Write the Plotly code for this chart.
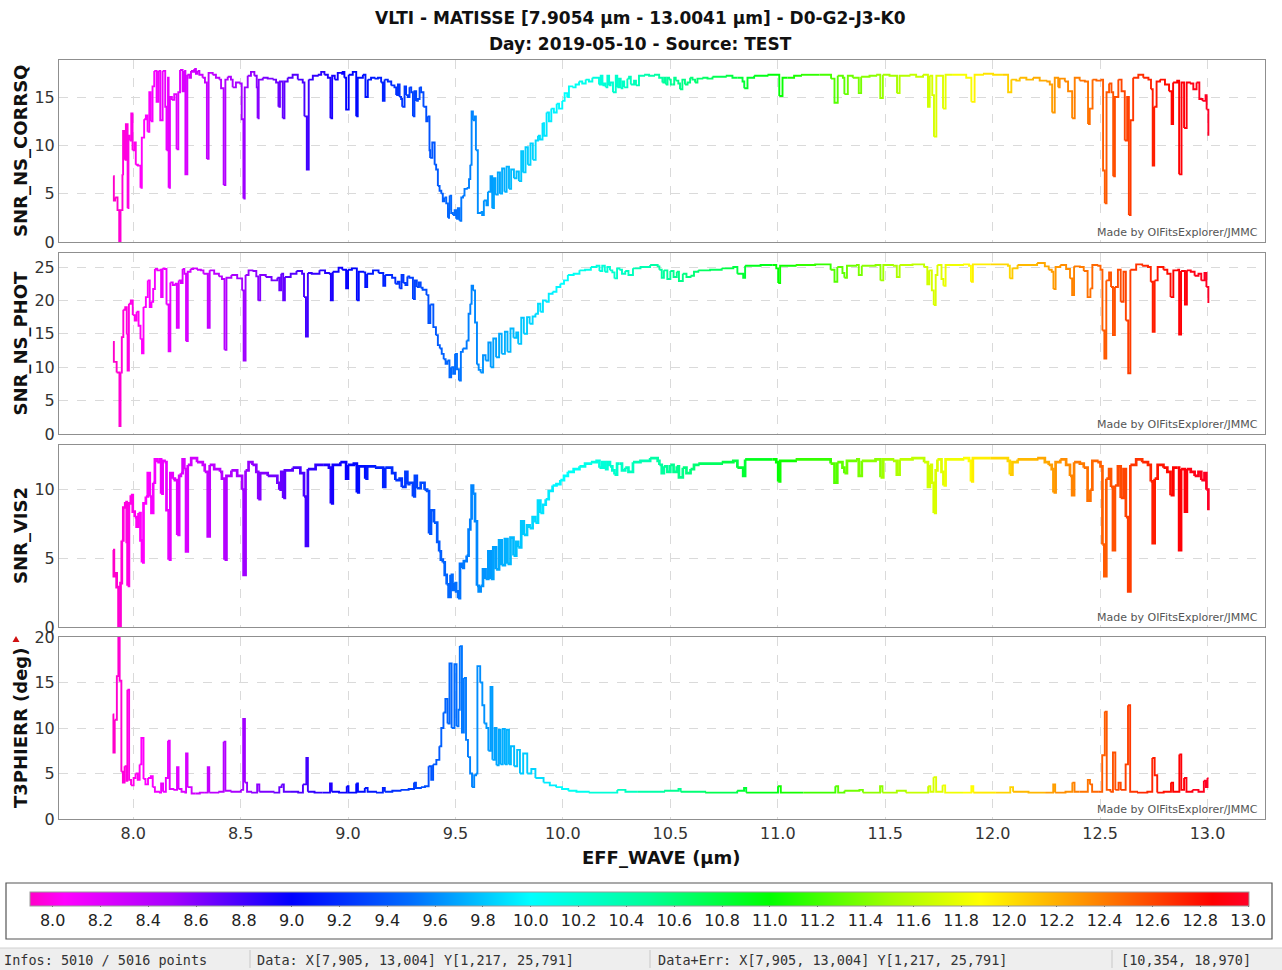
import numpy as np
import plotly.graph_objects as go

W, H = 1282, 970
WL_MIN, WL_MAX = 7.9054, 13.0041
FONT = "DejaVu Sans"

# ---------------------------------------------------------------- data
# SNR_NS_CORRSQ versus effective wavelength (µm)
corrsq_wl = [
    7.907, 7.910, 7.916, 7.927, 7.935, 7.941, 7.950, 7.953, 7.960, 7.966, 7.974, 7.978,
    7.984, 7.991, 7.997, 8.005, 8.012, 8.022, 8.034, 8.040, 8.051, 8.059, 8.067, 8.075,
    8.082, 8.090, 8.098, 8.109, 8.118, 8.126, 8.137, 8.149, 8.155, 8.162, 8.165, 8.171,
    8.180, 8.191, 8.202, 8.210, 8.218, 8.230, 8.237, 8.243, 8.252, 8.261, 8.269, 8.277,
    8.284, 8.292, 8.300, 8.308, 8.323, 8.334, 8.343, 8.351, 8.370, 8.385, 8.401, 8.409,
    8.421, 8.429, 8.440, 8.455, 8.463, 8.478, 8.494, 8.505, 8.513, 8.519, 8.533, 8.548,
    8.564, 8.575, 8.579, 8.584, 8.603, 8.626, 8.649, 8.665, 8.676, 8.683, 8.696, 8.704,
    8.719, 8.742, 8.766, 8.789, 8.797, 8.808, 8.817, 8.836, 8.859, 8.875, 8.890, 8.906,
    8.918, 8.926, 8.938, 8.952, 8.968, 8.975, 8.983, 8.991, 9.003, 9.022, 9.038, 9.045,
    9.069, 9.081, 9.092, 9.107, 9.123, 9.139, 9.154, 9.162, 9.170, 9.185, 9.201, 9.216,
    9.224, 9.232, 9.240, 9.247, 9.252, 9.263, 9.270, 9.278, 9.286, 9.294, 9.302, 9.309,
    9.317, 9.325, 9.333, 9.340, 9.351, 9.364, 9.371, 9.379, 9.382, 9.392, 9.403, 9.410,
    9.418, 9.426, 9.434, 9.441, 9.449, 9.457, 9.465, 9.470, 9.473, 9.480, 9.488, 9.496,
    9.503, 9.511, 9.519, 9.527, 9.535, 9.542, 9.553, 9.563, 9.569, 9.575, 9.581, 9.589,
    9.595, 9.604, 9.617, 9.624, 9.632, 9.644, 9.651, 9.663, 9.671, 9.679, 9.686, 9.697,
    9.707, 9.717, 9.728, 9.738, 9.749, 9.759, 9.772, 9.784, 9.795, 9.806, 9.815, 9.826,
    9.837, 9.849, 9.860, 9.873, 9.884, 9.893, 9.905, 9.912, 9.924, 9.935, 9.946, 9.958,
    9.971, 9.982, 9.997, 10.008, 10.020, 10.028, 10.044, 10.059, 10.075, 10.090, 10.106, 10.121,
    10.137, 10.160, 10.168, 10.176, 10.184, 10.191, 10.199, 10.207, 10.215, 10.222, 10.233, 10.246,
    10.253, 10.261, 10.269, 10.277, 10.285, 10.292, 10.300, 10.308, 10.316, 10.331, 10.340, 10.354,
    10.378, 10.401, 10.424, 10.448, 10.463, 10.471, 10.479, 10.487, 10.494, 10.502, 10.510, 10.518,
    10.525, 10.537, 10.545, 10.556, 10.568, 10.580, 10.592, 10.603, 10.615, 10.626, 10.649, 10.673,
    10.696, 10.727, 10.758, 10.789, 10.812, 10.836, 10.844, 10.859, 10.890, 10.921, 10.952, 10.983,
    11.007, 11.022, 11.045, 11.076, 11.108, 11.154, 11.194, 11.225, 11.248, 11.264, 11.279, 11.303,
    11.310, 11.326, 11.349, 11.377, 11.388, 11.427, 11.458, 11.477, 11.489, 11.520, 11.555, 11.567,
    11.613, 11.644, 11.676, 11.699, 11.707, 11.719, 11.727, 11.738, 11.769, 11.781, 11.815, 11.877,
    11.901, 11.916, 11.955, 12.002, 12.048, 12.072, 12.087, 12.110, 12.126, 12.157, 12.188, 12.219,
    12.250, 12.266, 12.277, 12.289, 12.305, 12.312, 12.336, 12.351, 12.370, 12.382, 12.405, 12.429,
    12.444, 12.452, 12.465, 12.483, 12.503, 12.514, 12.522, 12.530, 12.542, 12.553, 12.561, 12.569,
    12.585, 12.600, 12.615, 12.626, 12.634, 12.642, 12.654, 12.678, 12.701, 12.725, 12.737, 12.745,
    12.752, 12.763, 12.779, 12.802, 12.821, 12.833, 12.840, 12.859, 12.868, 12.879, 12.891, 12.903,
    12.918, 12.934, 12.949, 12.962, 12.977, 12.991, 12.996, 13.004,
]
corrsq_snr = [
    6.8, 4.3, 4.6, 3.3, 0.0, 3.3, 7.0, 11.5, 8.5, 12.2, 3.5, 11.0,
    10.5, 13.3, 9.5, 10.3, 8.0, 7.9, 5.6, 10.8, 12.7, 13.1, 11.4, 15.5,
    12.5, 16.1, 17.7, 14.5, 17.7, 12.6, 17.7, 14.0, 9.5, 17.0, 5.6, 15.0,
    14.7, 15.3, 9.6, 15.5, 17.8, 15.6, 17.7, 7.0, 17.3, 17.0, 17.7, 17.6,
    17.9, 17.4, 17.7, 17.3, 17.0, 16.5, 8.6, 17.5, 17.3, 17.0, 16.8, 15.9,
    5.9, 16.8, 17.1, 16.8, 16.0, 16.5, 16.4, 12.7, 4.5, 16.0, 17.2, 17.6,
    17.2, 16.0, 12.8, 16.8, 17.0, 16.9, 16.8, 16.5, 14.0, 16.6, 12.8, 16.6,
    17.0, 17.3, 16.8, 16.5, 13.0, 7.5, 16.8, 17.2, 17.3, 17.6, 17.3, 17.0,
    12.8, 17.2, 16.8, 17.5, 17.4, 17.6, 17.0, 13.7, 17.3, 17.6, 13.0, 17.0,
    17.3, 15.0, 16.8, 17.0, 16.9, 17.0, 16.5, 14.6, 16.8, 16.6, 16.2, 16.0,
    15.2, 16.3, 15.0, 14.8, 14.0, 16.1, 15.2, 15.0, 16.0, 15.5, 13.0, 15.6,
    14.6, 14.8, 16.0, 15.5, 14.0, 12.5, 13.0, 9.5, 8.7, 10.3, 8.0, 7.5,
    5.8, 5.3, 5.0, 4.2, 4.6, 4.0, 2.5, 3.4, 4.8, 3.0, 2.8, 3.3,
    2.4, 3.5, 2.2, 4.6, 4.8, 5.5, 5.6, 6.5, 8.0, 13.5, 12.6, 13.0,
    9.5, 3.0, 3.1, 2.8, 4.3, 3.8, 5.2, 6.8, 3.5, 6.6, 4.9, 7.2,
    5.0, 7.6, 5.2, 7.8, 5.5, 7.5, 6.6, 7.3, 6.3, 9.4, 7.2, 9.8,
    8.0, 10.2, 8.5, 10.5, 11.0, 10.6, 12.3, 11.0, 13.4, 12.5, 13.8, 13.4,
    14.3, 13.8, 14.6, 15.4, 15.0, 16.1, 16.0, 16.3, 16.6, 16.4, 16.8, 16.6,
    17.0, 17.0, 16.3, 17.2, 16.2, 16.4, 16.0, 17.2, 16.2, 16.5, 15.5, 17.2,
    16.0, 16.9, 15.9, 16.6, 16.0, 16.0, 16.9, 17.1, 16.3, 16.7, 16.2, 17.2,
    17.3, 17.2, 17.3, 17.0, 16.5, 17.0, 16.3, 17.0, 16.8, 16.3, 16.3, 17.0,
    16.7, 16.4, 15.8, 16.8, 16.3, 16.5, 17.0, 16.8, 16.5, 16.9, 17.0, 16.9,
    17.1, 17.1, 17.2, 17.0, 17.0, 16.6, 15.9, 17.0, 17.2, 17.2, 17.3, 17.3,
    15.1, 17.0, 17.0, 17.2, 17.3, 17.3, 17.3, 17.3, 16.9, 14.4, 17.2, 17.0,
    15.3, 17.2, 17.0, 15.4, 17.1, 17.2, 17.3, 14.9, 17.3, 17.2, 15.4, 17.2,
    17.3, 17.1, 17.3, 14.0, 17.2, 15.2, 10.9, 17.2, 13.8, 17.3, 17.3, 17.0,
    14.5, 17.3, 17.4, 17.3, 17.3, 15.5, 16.8, 16.7, 17.0, 16.8, 17.0, 16.7,
    16.6, 16.3, 13.4, 17.0, 16.0, 16.9, 16.6, 15.6, 12.8, 17.0, 16.7, 16.6,
    12.2, 13.8, 16.8, 16.7, 16.8, 7.4, 4.0, 15.5, 16.4, 15.5, 6.8, 15.0,
    16.8, 15.6, 10.5, 15.0, 2.8, 12.6, 17.0, 17.3, 17.0, 16.8, 15.8, 7.9,
    14.0, 16.6, 16.8, 16.3, 15.6, 12.2, 16.5, 16.7, 7.0, 16.5, 11.8, 16.5,
    16.4, 15.8, 16.5, 14.8, 14.6, 15.2, 13.7, 11.0,
]

# SNR_NS_PHOT versus effective wavelength (µm)
phot_wl = [
    7.906, 7.910, 7.923, 7.936, 7.941, 7.947, 7.954, 7.963, 7.970, 7.974, 7.980, 7.989,
    7.998, 8.007, 8.016, 8.025, 8.034, 8.041, 8.048, 8.059, 8.068, 8.077, 8.085, 8.093,
    8.101, 8.112, 8.123, 8.130, 8.137, 8.146, 8.155, 8.165, 8.173, 8.184, 8.194, 8.203,
    8.212, 8.222, 8.230, 8.238, 8.246, 8.254, 8.267, 8.279, 8.297, 8.315, 8.327, 8.347,
    8.356, 8.377, 8.399, 8.413, 8.425, 8.434, 8.457, 8.484, 8.507, 8.514, 8.523, 8.537,
    8.555, 8.573, 8.582, 8.591, 8.617, 8.644, 8.671, 8.680, 8.689, 8.698, 8.706, 8.733,
    8.760, 8.786, 8.795, 8.804, 8.813, 8.831, 8.867, 8.893, 8.911, 8.920, 8.929, 8.956,
    8.973, 8.991, 9.000, 9.018, 9.041, 9.050, 9.071, 9.080, 9.089, 9.116, 9.142, 9.164,
    9.173, 9.205, 9.220, 9.231, 9.240, 9.249, 9.258, 9.267, 9.276, 9.285, 9.302, 9.311,
    9.320, 9.329, 9.338, 9.347, 9.365, 9.374, 9.383, 9.397, 9.409, 9.418, 9.427, 9.436,
    9.445, 9.454, 9.463, 9.472, 9.480, 9.489, 9.498, 9.507, 9.516, 9.525, 9.534, 9.543,
    9.552, 9.561, 9.569, 9.575, 9.582, 9.591, 9.600, 9.608, 9.617, 9.628, 9.640, 9.653,
    9.664, 9.676, 9.689, 9.703, 9.715, 9.730, 9.742, 9.756, 9.770, 9.783, 9.792, 9.806,
    9.818, 9.833, 9.845, 9.859, 9.872, 9.884, 9.895, 9.907, 9.920, 9.934, 9.952, 9.970,
    9.988, 10.005, 10.023, 10.050, 10.077, 10.103, 10.130, 10.157, 10.170, 10.183, 10.195, 10.207,
    10.219, 10.230, 10.240, 10.252, 10.263, 10.275, 10.290, 10.305, 10.326, 10.361, 10.406, 10.441,
    10.449, 10.460, 10.470, 10.486, 10.500, 10.515, 10.530, 10.540, 10.558, 10.575, 10.594, 10.610,
    10.630, 10.685, 10.739, 10.793, 10.812, 10.839, 10.848, 10.920, 10.975, 10.993, 11.002, 11.011,
    11.083, 11.174, 11.246, 11.264, 11.277, 11.301, 11.310, 11.322, 11.364, 11.377, 11.391, 11.455,
    11.478, 11.491, 11.536, 11.554, 11.567, 11.627, 11.681, 11.696, 11.705, 11.717, 11.726, 11.735,
    11.743, 11.762, 11.771, 11.781, 11.862, 11.890, 11.899, 11.908, 11.989, 12.071, 12.080, 12.092,
    12.116, 12.170, 12.207, 12.243, 12.261, 12.275, 12.283, 12.293, 12.315, 12.342, 12.360, 12.370,
    12.379, 12.406, 12.424, 12.442, 12.455, 12.464, 12.487, 12.502, 12.511, 12.520, 12.529, 12.542,
    12.551, 12.560, 12.569, 12.583, 12.596, 12.609, 12.620, 12.631, 12.641, 12.668, 12.696, 12.723,
    12.736, 12.745, 12.754, 12.768, 12.795, 12.813, 12.828, 12.841, 12.859, 12.868, 12.877, 12.895,
    12.904, 12.922, 12.940, 12.958, 12.971, 12.986, 12.995, 13.004,
]
phot_snr = [
    13.8, 10.8, 9.2, 1.2, 9.2, 14.5, 18.6, 19.0, 14.9, 9.5, 19.5, 20.0,
    17.8, 17.0, 18.3, 16.2, 14.2, 12.1, 19.0, 20.5, 23.0, 19.0, 19.8, 21.7,
    24.7, 24.5, 24.6, 20.5, 24.8, 24.7, 19.4, 12.4, 22.7, 22.3, 22.5, 15.9,
    23.0, 22.6, 24.7, 24.0, 13.9, 24.3, 24.7, 24.8, 24.6, 24.5, 24.0, 15.9,
    24.5, 24.0, 23.6, 23.2, 12.6, 23.4, 23.8, 23.3, 21.5, 11.0, 23.8, 24.5,
    24.4, 23.6, 20.0, 23.8, 23.5, 23.0, 23.4, 21.5, 24.0, 20.0, 23.5, 24.0,
    24.4, 24.0, 20.5, 14.6, 24.1, 24.0, 24.5, 24.1, 24.0, 20.0, 24.3, 24.9,
    24.6, 21.8, 24.6, 24.8, 20.0, 24.3, 24.2, 22.0, 24.0, 24.5, 24.1, 22.2,
    23.8, 23.4, 22.5, 22.8, 21.8, 23.8, 22.6, 22.3, 23.6, 23.4, 20.2, 23.0,
    22.0, 22.7, 21.9, 21.6, 20.8, 16.6, 19.4, 16.0, 14.8, 13.3, 12.8, 12.0,
    11.2, 10.5, 11.0, 8.5, 10.0, 9.0, 12.0, 9.7, 8.0, 12.3, 12.8, 12.8,
    14.0, 18.0, 19.5, 22.2, 21.5, 16.7, 10.4, 9.6, 9.2, 11.8, 11.0, 13.7,
    10.0, 14.3, 11.5, 15.0, 12.0, 15.3, 12.3, 15.8, 14.4, 15.2, 13.5, 17.4,
    15.0, 17.5, 16.5, 17.6, 18.0, 19.5, 18.3, 20.0, 19.8, 21.0, 21.3, 22.0,
    22.5, 23.0, 23.8, 24.0, 24.5, 24.6, 25.0, 25.2, 24.4, 25.2, 24.3, 25.0,
    24.5, 24.2, 23.3, 24.8, 24.6, 24.0, 24.4, 23.8, 24.8, 25.0, 25.3, 25.1,
    24.6, 23.4, 24.5, 23.2, 24.4, 23.5, 24.3, 22.9, 24.0, 23.5, 23.7, 24.3,
    24.5, 24.6, 24.8, 25.0, 24.0, 23.4, 25.2, 25.3, 25.3, 24.8, 22.6, 25.2,
    25.3, 25.4, 24.6, 22.8, 25.0, 24.1, 23.4, 25.2, 25.3, 23.8, 25.2, 25.3,
    23.0, 25.3, 25.2, 23.5, 25.3, 25.4, 25.0, 22.4, 24.5, 21.5, 19.3, 23.8,
    25.3, 23.2, 22.2, 25.3, 25.4, 25.2, 22.8, 25.4, 25.4, 25.2, 23.3, 24.8,
    25.3, 25.3, 25.6, 25.1, 24.6, 24.3, 21.7, 25.0, 25.3, 24.7, 23.3, 20.8,
    25.1, 25.0, 24.4, 20.5, 21.8, 25.3, 25.2, 24.6, 15.5, 11.3, 23.0, 24.2,
    22.0, 14.8, 22.0, 24.6, 19.8, 24.3, 17.0, 9.1, 24.6, 25.4, 25.2, 25.0,
    22.8, 15.3, 23.0, 25.0, 24.6, 24.0, 20.5, 24.5, 24.6, 14.9, 24.4, 19.4,
    24.5, 24.3, 23.7, 24.0, 23.0, 24.1, 22.0, 19.6,
]

# SNR_VIS2 versus effective wavelength (µm)
vis2_wl = [
    7.906, 7.910, 7.915, 7.923, 7.932, 7.941, 7.947, 7.954, 7.963, 7.970, 7.974, 7.980,
    7.989, 7.998, 8.007, 8.016, 8.025, 8.034, 8.041, 8.048, 8.059, 8.068, 8.077, 8.085,
    8.093, 8.101, 8.112, 8.123, 8.130, 8.137, 8.146, 8.155, 8.165, 8.173, 8.184, 8.194,
    8.205, 8.214, 8.222, 8.230, 8.238, 8.246, 8.254, 8.270, 8.297, 8.324, 8.333, 8.347,
    8.356, 8.377, 8.404, 8.413, 8.425, 8.434, 8.457, 8.484, 8.507, 8.514, 8.523, 8.537,
    8.555, 8.573, 8.582, 8.591, 8.626, 8.671, 8.680, 8.689, 8.698, 8.706, 8.742, 8.778,
    8.795, 8.804, 8.813, 8.849, 8.884, 8.911, 8.920, 8.929, 8.964, 8.991, 9.000, 9.027,
    9.041, 9.050, 9.080, 9.089, 9.125, 9.164, 9.173, 9.205, 9.220, 9.240, 9.250, 9.267,
    9.276, 9.285, 9.302, 9.311, 9.320, 9.338, 9.356, 9.368, 9.377, 9.386, 9.400, 9.415,
    9.424, 9.432, 9.441, 9.450, 9.459, 9.468, 9.477, 9.486, 9.494, 9.503, 9.512, 9.521,
    9.530, 9.539, 9.552, 9.561, 9.569, 9.575, 9.582, 9.591, 9.600, 9.608, 9.617, 9.628,
    9.640, 9.653, 9.664, 9.676, 9.689, 9.703, 9.715, 9.730, 9.742, 9.756, 9.770, 9.783,
    9.792, 9.806, 9.818, 9.833, 9.845, 9.859, 9.872, 9.884, 9.895, 9.907, 9.920, 9.934,
    9.952, 9.970, 9.988, 10.005, 10.023, 10.050, 10.077, 10.103, 10.130, 10.157, 10.170, 10.183,
    10.195, 10.207, 10.219, 10.230, 10.240, 10.252, 10.263, 10.275, 10.290, 10.305, 10.326, 10.361,
    10.406, 10.441, 10.449, 10.460, 10.470, 10.486, 10.500, 10.515, 10.530, 10.540, 10.558, 10.575,
    10.594, 10.610, 10.630, 10.685, 10.739, 10.793, 10.812, 10.839, 10.848, 10.920, 10.975, 10.993,
    11.002, 11.011, 11.083, 11.174, 11.246, 11.264, 11.277, 11.301, 11.310, 11.322, 11.364, 11.377,
    11.391, 11.455, 11.478, 11.491, 11.536, 11.554, 11.567, 11.627, 11.681, 11.699, 11.708, 11.717,
    11.726, 11.735, 11.743, 11.762, 11.771, 11.781, 11.862, 11.890, 11.899, 11.908, 11.989, 12.071,
    12.080, 12.092, 12.116, 12.170, 12.207, 12.243, 12.261, 12.275, 12.283, 12.293, 12.315, 12.342,
    12.360, 12.370, 12.379, 12.406, 12.424, 12.442, 12.455, 12.464, 12.487, 12.502, 12.511, 12.520,
    12.529, 12.542, 12.551, 12.560, 12.569, 12.583, 12.596, 12.609, 12.620, 12.631, 12.641, 12.668,
    12.696, 12.723, 12.736, 12.745, 12.754, 12.768, 12.795, 12.813, 12.828, 12.841, 12.859, 12.868,
    12.877, 12.895, 12.904, 12.922, 12.940, 12.958, 12.971, 12.986, 12.995, 13.004,
]
vis2_snr = [
    5.6, 3.7, 3.9, 2.9, 0.0, 3.2, 6.3, 8.7, 9.1, 6.2, 3.0, 9.0,
    9.6, 8.4, 8.0, 7.3, 8.3, 6.3, 4.7, 9.0, 9.5, 11.2, 9.5, 8.3,
    10.5, 12.2, 12.0, 12.2, 9.7, 12.1, 12.0, 8.5, 4.9, 11.2, 10.8, 10.7,
    6.7, 11.0, 11.2, 12.2, 11.5, 5.5, 11.8, 12.3, 12.0, 11.8, 11.3, 6.6,
    11.8, 11.5, 11.3, 10.8, 4.9, 11.0, 11.4, 11.0, 10.0, 3.8, 11.4, 12.0,
    11.8, 11.3, 9.3, 11.2, 11.0, 10.5, 10.0, 11.3, 9.4, 11.4, 11.6, 11.2,
    9.5, 5.9, 11.5, 11.8, 11.8, 11.6, 9.0, 11.8, 12.0, 10.8, 11.8, 11.9,
    9.8, 11.7, 10.8, 11.7, 11.6, 10.2, 11.6, 11.2, 10.7, 10.8, 10.2, 11.3,
    10.4, 10.5, 9.5, 11.0, 10.1, 10.5, 10.0, 9.9, 6.8, 8.5, 7.6, 6.2,
    5.5, 4.9, 4.7, 3.8, 3.1, 2.2, 3.8, 2.7, 3.2, 2.6, 2.1, 4.6,
    4.3, 4.8, 5.2, 7.1, 7.9, 10.3, 9.7, 7.7, 3.0, 2.6, 3.0, 4.2,
    3.5, 5.5, 3.5, 5.8, 4.2, 6.3, 4.5, 6.4, 4.6, 6.5, 5.2, 6.2,
    5.8, 7.7, 6.7, 7.4, 7.2, 8.0, 7.6, 9.2, 8.3, 8.9, 9.3, 9.9,
    10.3, 10.4, 10.7, 11.0, 11.3, 11.5, 11.7, 11.9, 12.0, 12.1, 11.6, 12.0,
    11.5, 12.0, 11.7, 11.4, 11.1, 11.9, 11.9, 11.4, 11.6, 11.3, 12.0, 12.1,
    12.3, 12.1, 11.8, 11.2, 11.7, 11.3, 11.8, 11.3, 11.7, 10.9, 11.6, 11.2,
    11.5, 11.8, 11.9, 11.9, 12.0, 12.1, 11.6, 11.0, 12.2, 12.2, 12.2, 12.0,
    10.6, 12.1, 12.2, 12.2, 11.9, 10.5, 12.0, 11.6, 11.2, 12.1, 12.2, 11.0,
    12.1, 12.2, 10.9, 12.2, 12.1, 11.1, 12.2, 12.3, 12.0, 10.2, 11.8, 10.5,
    8.3, 11.4, 12.2, 11.3, 10.3, 12.2, 12.3, 12.1, 10.6, 12.3, 12.3, 12.1,
    11.1, 12.0, 12.2, 12.2, 12.3, 12.0, 11.8, 11.5, 9.8, 12.0, 12.2, 11.8,
    11.0, 9.6, 12.0, 11.9, 11.6, 9.2, 10.0, 12.1, 12.0, 11.7, 6.0, 3.7,
    10.8, 11.5, 10.2, 5.6, 10.3, 11.7, 9.4, 11.5, 8.0, 2.6, 11.8, 12.2,
    12.0, 11.8, 10.6, 6.1, 10.8, 11.8, 11.6, 11.3, 9.6, 11.6, 11.6, 5.6,
    11.5, 8.4, 11.5, 11.3, 11.0, 11.3, 10.7, 11.2, 10.0, 8.5,
]

# T3PHIERR (deg) versus effective wavelength (µm)
t3_wl = [
    7.905, 7.908, 7.914, 7.924, 7.931, 7.937, 7.945, 7.952, 7.960, 7.968, 7.973, 7.981,
    7.990, 8.002, 8.011, 8.021, 8.030, 8.038, 8.048, 8.057, 8.069, 8.082, 8.091, 8.101,
    8.120, 8.130, 8.139, 8.152, 8.162, 8.170, 8.187, 8.204, 8.211, 8.225, 8.238, 8.246,
    8.253, 8.272, 8.291, 8.310, 8.330, 8.347, 8.354, 8.377, 8.396, 8.408, 8.421, 8.429,
    8.453, 8.482, 8.501, 8.512, 8.520, 8.530, 8.549, 8.577, 8.587, 8.615, 8.653, 8.680,
    8.691, 8.701, 8.730, 8.768, 8.790, 8.806, 8.813, 8.844, 8.882, 8.916, 8.924, 8.958,
    8.994, 9.002, 9.038, 9.046, 9.078, 9.091, 9.130, 9.162, 9.171, 9.206, 9.244, 9.282,
    9.307, 9.316, 9.339, 9.358, 9.375, 9.387, 9.396, 9.411, 9.425, 9.434, 9.444, 9.453,
    9.463, 9.472, 9.482, 9.495, 9.505, 9.514, 9.520, 9.530, 9.539, 9.549, 9.558, 9.568,
    9.577, 9.587, 9.596, 9.602, 9.615, 9.625, 9.634, 9.644, 9.653, 9.663, 9.672, 9.682,
    9.691, 9.701, 9.710, 9.720, 9.730, 9.739, 9.749, 9.758, 9.773, 9.787, 9.800, 9.815,
    9.834, 9.853, 9.872, 9.891, 9.910, 9.939, 9.968, 9.996, 10.025, 10.063, 10.120, 10.196,
    10.253, 10.291, 10.349, 10.414, 10.471, 10.538, 10.548, 10.605, 10.662, 10.738, 10.811, 10.843,
    10.853, 10.929, 11.001, 11.014, 11.119, 11.215, 11.268, 11.281, 11.310, 11.380, 11.396, 11.476,
    11.487, 11.554, 11.596, 11.653, 11.700, 11.710, 11.725, 11.737, 11.767, 11.779, 11.862, 11.901,
    11.910, 11.967, 12.015, 12.082, 12.095, 12.167, 12.244, 12.282, 12.291, 12.339, 12.371, 12.381,
    12.405, 12.443, 12.453, 12.463, 12.491, 12.510, 12.522, 12.531, 12.548, 12.560, 12.571, 12.586,
    12.596, 12.619, 12.630, 12.640, 12.672, 12.720, 12.743, 12.754, 12.766, 12.796, 12.830, 12.840,
    12.869, 12.878, 12.891, 12.902, 12.930, 12.958, 12.983, 12.992, 13.000, 13.004,
]
t3_err = [
    11.5, 7.3, 10.9, 15.7, 23.0, 15.2, 5.2, 4.0, 5.8, 4.2, 14.2, 4.3,
    3.7, 4.5, 5.0, 4.3, 6.0, 8.9, 4.4, 3.8, 4.5, 4.7, 3.5, 3.0,
    2.9, 3.9, 3.0, 4.5, 8.6, 3.3, 3.2, 5.7, 3.3, 3.0, 2.9, 7.2,
    3.5, 2.8, 2.8, 2.9, 2.9, 5.7, 2.9, 2.9, 3.0, 3.0, 8.5, 3.1,
    3.0, 3.0, 3.2, 11.0, 4.0, 3.0, 2.9, 3.8, 3.0, 3.0, 2.9, 3.5,
    3.8, 3.0, 3.0, 2.9, 3.8, 6.7, 3.0, 2.9, 2.9, 3.9, 3.0, 2.9,
    3.6, 2.9, 3.9, 3.0, 3.4, 3.0, 2.9, 3.4, 3.0, 3.1, 3.2, 3.3,
    4.0, 3.4, 3.5, 3.6, 5.8, 4.3, 6.0, 6.5, 8.0, 10.0, 11.7, 13.2,
    10.5, 17.1, 10.0, 17.0, 10.2, 12.0, 19.0, 9.5, 15.5, 8.7, 6.8, 5.0,
    3.5, 4.8, 5.0, 16.8, 15.0, 12.5, 10.5, 10.0, 7.5, 14.5, 6.5, 10.0,
    5.9, 9.8, 6.0, 9.9, 6.0, 9.8, 6.0, 8.0, 5.8, 7.6, 5.0, 7.2,
    5.0, 5.5, 4.5, 4.5, 4.0, 3.7, 3.5, 3.3, 3.1, 3.0, 2.9, 2.9,
    3.2, 3.0, 3.0, 3.0, 3.1, 3.3, 3.0, 3.0, 2.9, 2.9, 3.1, 3.4,
    2.9, 2.9, 3.6, 2.9, 2.9, 2.9, 3.6, 2.9, 3.1, 3.2, 2.9, 3.6,
    2.9, 3.1, 2.9, 2.9, 3.6, 3.0, 4.6, 3.0, 3.7, 2.9, 2.9, 3.6,
    2.9, 2.9, 2.9, 3.5, 3.0, 2.9, 2.9, 3.8, 2.9, 3.0, 4.0, 3.0,
    3.0, 4.3, 3.8, 3.0, 3.0, 7.0, 11.8, 3.2, 3.0, 7.3, 3.2, 4.0,
    3.2, 6.0, 12.5, 3.0, 2.9, 3.0, 6.7, 4.8, 2.9, 3.0, 4.0, 3.0,
    7.1, 3.2, 4.5, 3.0, 3.2, 3.0, 4.2, 3.5, 4.5, 4.5,
]

# wavelength colour map: anchor wavelengths (µm) and their RGB colours
cmap_wl = [7.9054, 8.05, 8.5, 9.0, 9.5, 10.0, 10.5, 11.0, 11.5, 11.88, 12.3, 12.6, 12.85, 13.0041]
cmap_rgb = [(255, 0, 200), (255, 0, 255), (165, 0, 255), (0, 0, 255), (0, 110, 255),
            (0, 255, 255), (0, 255, 150), (0, 255, 0), (160, 255, 0), (255, 255, 0),
            (255, 150, 0), (255, 70, 0), (255, 0, 0), (255, 0, 40)]

colorbar_ticks = [round(8.0 + 0.2 * i, 1) for i in range(26)]


def wl_color(w):
    r = np.interp(w, cmap_wl, [c[0] for c in cmap_rgb])
    g = np.interp(w, cmap_wl, [c[1] for c in cmap_rgb])
    b = np.interp(w, cmap_wl, [c[2] for c in cmap_rgb])
    return f"rgb({int(round(r))},{int(round(g))},{int(round(b))})"


colorscale = [[(w - WL_MIN) / (WL_MAX - WL_MIN), f"rgb{c}"] for w, c in zip(cmap_wl, cmap_rgb)]

# ---------------------------------------------------------------- layout geometry (pixels)
X0, X1 = 59, 1265
panels = [
    dict(top=60, bottom=242, yrange=[0, 18.83], ticks=[0, 5, 10, 15],
         title="SNR_NS_CORRSQ", wl=corrsq_wl, val=corrsq_snr, width=1.9),
    dict(top=253, bottom=434, yrange=[0, 27.1], ticks=[0, 5, 10, 15, 20, 25],
         title="SNR_NS_PHOT", wl=phot_wl, val=phot_snr, width=1.9),
    dict(top=445, bottom=627, yrange=[0, 13.25], ticks=[0, 5, 10],
         title="SNR_VIS2", wl=vis2_wl, val=vis2_snr, width=2.7),
    dict(top=637, bottom=819, yrange=[0, 20], ticks=[0, 5, 10, 15, 20],
         title="T3PHIERR (deg)", wl=t3_wl, val=t3_err, width=1.9),
]


def px(x):
    return x / W


def py(y):
    return 1 - y / H


fig = go.Figure()
annotations = []
shapes = []

for i, p in enumerate(panels, start=1):
    sfx = "" if i == 1 else str(i)
    xa, ya = "x" + sfx, "y" + sfx
    wl, val = p["wl"], p["val"]
    n = len(wl)
    k = 0
    # draw the stepped curve in short pieces, each coloured by its wavelength
    while k < n - 1:
        e = min(k + 2, n - 1)
        xs, ys = wl[k:e + 1], val[k:e + 1]
        fig.add_trace(go.Scatter(
            x=xs, y=ys, mode="lines", xaxis=xa, yaxis=ya,
            line=dict(color=wl_color(0.5 * (xs[0] + xs[-1])), width=p["width"], shape="hv"),
            hoverinfo="skip", showlegend=False))
        k = e

    axis_common = dict(showline=True, linecolor="#8f8f8f", linewidth=1, mirror=True,
                       showgrid=True, gridcolor="#dadada", griddash="dash", gridwidth=1,
                       zeroline=False, ticks="", automargin=False,
                       tickfont=dict(family=FONT, size=16, color="#333333"))
    fig.update_layout(**{
        "xaxis" + sfx: dict(axis_common, domain=[px(X0), px(X1)], anchor=ya,
                            range=[7.6547, 13.2676], tickvals=[8.0 + 0.5 * j for j in range(11)],
                            tickformat=".1f", showticklabels=(i == 4),
                            **({} if i == 1 else {"matches": "x"})),
        "yaxis" + sfx: dict(axis_common, domain=[py(p["bottom"]), py(p["top"])], anchor=xa,
                            range=p["yrange"], tickvals=p["ticks"]),
    })
    annotations.append(dict(
        text="<b>" + p["title"] + "</b>", x=px(20), y=py((p["top"] + p["bottom"]) / 2),
        xref="paper", yref="paper", textangle=-90, showarrow=False,
        xanchor="center", yanchor="middle", font=dict(family=FONT, size=18, color="#111111")))
    annotations.append(dict(
        text="Made by OIFitsExplorer/JMMC", x=px(1260), y=py(p["bottom"] - 1),
        xref="paper", yref="paper", showarrow=False, xanchor="right", yanchor="bottom",
        font=dict(family=FONT, size=11, color="#555555")))

# colour scale legend for wavelength
fig.add_trace(go.Scatter(
    x=[WL_MIN, WL_MAX], y=[-50, -50], mode="markers", xaxis="x", yaxis="y",
    marker=dict(size=2, opacity=0, color=[WL_MIN, WL_MAX], colorscale=colorscale,
                cmin=WL_MIN, cmax=WL_MAX, showscale=True,
                colorbar=dict(orientation="h", x=px((30 + 1249) / 2), xanchor="center",
                              y=py(892), yanchor="top", len=(1249 - 30) / W, lenmode="fraction",
                              thickness=14, thicknessmode="pixels", xpad=0, ypad=0,
                              outlinewidth=1, outlinecolor="#9a9a9a",
                              ticks="outside", ticklen=1, tickcolor="#555555",
                              tickvals=colorbar_ticks, ticktext=[f"{t:.1f}" for t in colorbar_ticks],
                              tickfont=dict(family=FONT, size=16, color="#222222"))),
    hoverinfo="skip", showlegend=False))

# titles
annotations += [
    dict(text="<b>VLTI - MATISSE [7.9054 µm - 13.0041 µm] - D0-G2-J3-K0</b>", x=px(640), y=py(18),
         xref="paper", yref="paper", showarrow=False, xanchor="center", yanchor="middle",
         font=dict(family=FONT, size=17, color="#111111")),
    dict(text="<b>Day: 2019-05-10 - Source: TEST</b>", x=px(640), y=py(44),
         xref="paper", yref="paper", showarrow=False, xanchor="center", yanchor="middle",
         font=dict(family=FONT, size=17, color="#111111")),
    dict(text="<b>EFF_WAVE (µm)</b>", x=px(661), y=py(857),
         xref="paper", yref="paper", showarrow=False, xanchor="center", yanchor="middle",
         font=dict(family=FONT, size=18, color="#111111")),
]

# colour-scale frame
shapes.append(dict(type="rect", xref="paper", yref="paper", x0=px(6), x1=px(1272),
                   y0=py(939), y1=py(883), line=dict(color="#555555", width=1.2),
                   fillcolor="white", layer="below"))
# out-of-range marker beside the T3PHIERR axis
shapes.append(dict(type="path", xref="paper", yref="paper",
                   path=f"M {px(16)},{py(636)} L {px(12.5)},{py(642)} L {px(19.5)},{py(642)} Z",
                   fillcolor="#d01010", line=dict(width=0)))

# status bar
shapes.append(dict(type="rect", xref="paper", yref="paper", x0=0, x1=1, y0=0, y1=py(948),
                   fillcolor="#eeeeee", line=dict(width=0), layer="below"))
shapes.append(dict(type="line", xref="paper", yref="paper", x0=0, x1=1, y0=py(948), y1=py(948),
                   line=dict(color="#d0d0d0", width=1)))
for sx in (250, 650, 1112):
    shapes.append(dict(type="line", xref="paper", yref="paper", x0=px(sx), x1=px(sx),
                       y0=py(968), y1=py(950), line=dict(color="#c8c8c8", width=1)))
status = [
    (2, "Infos: 5010 / 5016 points"),
    (255, "Data: X[7,905, 13,004] Y[1,217, 25,791]"),
    (656, "Data+Err: X[7,905, 13,004] Y[1,217, 25,791]"),
    (1119, "[10,354, 18,970]"),
]
for sx, txt in status:
    annotations.append(dict(text=txt, x=px(sx), y=py(960), xref="paper", yref="paper",
                            showarrow=False, xanchor="left", yanchor="middle",
                            font=dict(family="DejaVu Sans Mono", size=13.5, color="#333333")))

fig.update_layout(
    width=W, height=H, margin=dict(l=0, r=0, t=0, b=0, pad=0, autoexpand=False),
    paper_bgcolor="white", plot_bgcolor="white",
    annotations=annotations, shapes=shapes, showlegend=False,
    font=dict(family=FONT),
)

fig.write_html("out.html")
